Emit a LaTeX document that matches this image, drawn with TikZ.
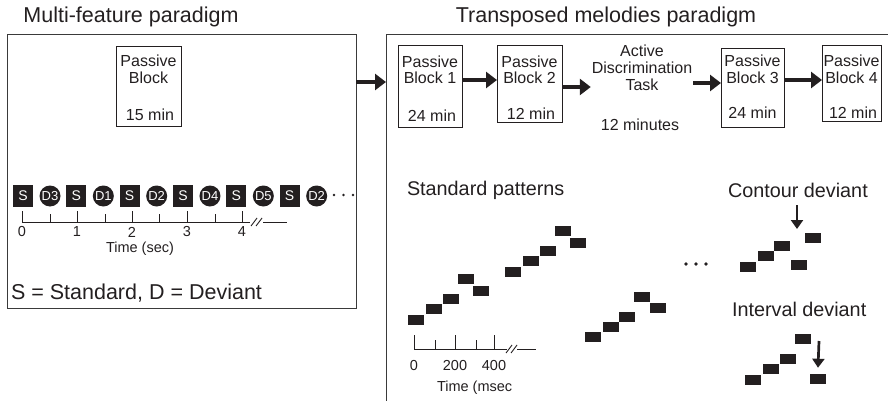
\documentclass[tikz,border=0pt]{standalone}
\usepackage{fontspec}
\setmainfont{Liberation Sans}
\usetikzlibrary{arrows.meta}
\definecolor{ink}{HTML}{231F20}
\definecolor{framec}{HTML}{3A3A3A}
\begin{document}
\begin{tikzpicture}[x=1pt,y=-1pt,
  every node/.style={text=ink, inner sep=0pt, outer sep=0pt},
  frame/.style={draw=framec, line width=1pt, anchor=north west},
  blk/.style={draw=ink, line width=0.9pt, anchor=north west},
  blktext/.style={font=\fontsize{16}{17}\selectfont},
  titletext/.style={font=\fontsize{21.5}{24}\selectfont},
  labtext/.style={font=\fontsize{19.8}{22}\selectfont},
  bigarrow/.style={draw=ink, line width=3.2pt, -{Triangle[length=11pt,width=16pt]}},
  downarrow/.style={draw=ink, line width=2.7pt, -{Triangle[length=9pt,width=12pt]}},
  seqS/.style={fill=ink, minimum width=20pt, minimum height=22pt, text=white, font=\fontsize{14}{15}\selectfont},
  seqD/.style={circle, fill=ink, minimum size=21pt, text=white, font=\fontsize{13}{14}\selectfont},
  tonebox/.style={fill=ink, minimum width=15.5pt, minimum height=10.5pt},
  ticktext/.style={font=\fontsize{14.5}{16}\selectfont},
  axisline/.style={draw=ink, line width=0.9pt}
]
\useasboundingbox (0,0) rectangle (888,401);
\clip (0,0) rectangle (888,401);

% titles
\node[titletext] (t1) at (131,17) {Multi-feature paradigm};
\node[titletext] (t2) at (606,17) {Transposed melodies paradigm};

% frames
\node[frame, minimum width=349pt, minimum height=273pt] (lf) at (7,35) {};
\node[frame, minimum width=520pt, minimum height=380pt] (rf) at (386,35) {};
\draw[bigarrow] (lf.east |- 0,82) -- (rf.west |- 0,82);

% left passive block
\node[blk, minimum width=65pt, minimum height=80pt] (pb) at (116,46) {};
\node[blktext] (pbt1) at (148.5,61) {Passive};
\node[blktext] (pbt2) at (148.5,78) {Block};
\node[blktext] (pbt3) at (150,115) {15 min};

% sequence
\foreach \i/\d in {0/D3,1/D1,2/D2,3/D4,4/D5,5/D2}{
  \node[seqS] (s\i) at ({23+53.33*\i},196) {S};
  \node[seqD] (d\i) at ({50+53.33*\i},196) {\d};
}
\foreach \x in {334,343.5,353}{
  \fill[ink] (\x,195) circle (1.3pt);
}

% seconds timeline
\draw[axisline] (22,222) -- (250,222);
\draw[axisline] (263,222) -- (287,222);
\draw[axisline] (251,226) -- (257,218);
\draw[axisline] (256,226) -- (262,218);
\foreach \x/\n in {22/0,77/1,132/2,187/3,242/4}{
  \draw[axisline] (\x,222) -- (\x,211);
  \node[ticktext] (sl\n) at (\x,232) {\n};
}
\foreach \x in {50,105,159,215}{
  \draw[axisline] (\x,222) -- (\x,214);
}
\node[ticktext] (tsec) at (140,249) {Time (sec)};

\node[titletext, anchor=west] (legend) at (11,293) {S = Standard, D = Deviant};

% right-side blocks
\node[blk, minimum width=64pt, minimum height=82pt] (b1) at (398,45) {};
\node[blktext] (b1a) at (430,62) {Passive};
\node[blktext] (b1b) at (430,78) {Block 1};
\node[blktext] (b1c) at (432,116) {24 min};

\node[blk, minimum width=65pt, minimum height=77pt] (b2) at (497,45) {};
\node[blktext] (b2a) at (529.5,62) {Passive};
\node[blktext] (b2b) at (529.5,78) {Block 2};
\node[blktext] (b2c) at (531,114) {12 min};

\node[blktext, align=center] (act) at (642,68) {Active\\Discrimination\\Task};
\node[blktext] (actd) at (640,125) {12 minutes};

\node[blk, minimum width=63pt, minimum height=79pt] (b3) at (721,48) {};
\node[blktext] (b3a) at (752.5,61) {Passive};
\node[blktext] (b3b) at (752.5,78) {Block 3};
\node[blktext] (b3c) at (752.5,113) {24 min};

\node[blk, minimum width=59pt, minimum height=76pt] (b4) at (822,45) {};
\node[blktext] (b4a) at (851.5,61) {Passive};
\node[blktext] (b4b) at (851.5,78) {Block 4};
\node[blktext] (b4c) at (853,113) {12 min};

\draw[bigarrow] (b1.east |- 0,80) -- (b2.west |- 0,80);
\draw[bigarrow] (b2.east |- 0,87) -- ([xshift=-1pt]act.west |- 0,87);
\draw[bigarrow] ([xshift=1pt]act.east |- 0,83) -- (b3.west |- 0,83);
\draw[bigarrow] (b3.east |- 0,80) -- (b4.west |- 0,80);

% labels
\node[labtext, anchor=west] (stdlab) at (407,190) {Standard patterns};
\node[labtext, anchor=west] (conlab) at (728,190) {Contour deviant};
\node[labtext, anchor=west] (intlab) at (732,309) {Interval deviant};

% standard patterns
\foreach \n/\x/\y in {1/416/320,2/434/309,3/451/299,4/466/279,5/481/291,
                      6/513/272,7/531/261,8/548/251,9/563/231,10/578/243,
                      11/593/337,12/611/327,13/627/317,14/642/297,15/658/308}{
  \node[tonebox] (sp\n) at (\x,\y) {};
}
\foreach \x in {686,696,706}{
  \fill[ink] (\x,264) circle (1.8pt);
}

% contour deviant
\foreach \n/\x/\y in {1/748/267,2/766/256,3/782/246,4/799/265,5/813/238}{
  \node[tonebox] (cd\n) at (\x,\y) {};
}
\coordinate (ca) at (797,205);
\coordinate (cb) at (797,229);
\draw[downarrow] (ca) -- (cb);

% interval deviant
\foreach \n/\x/\y in {1/753/380,2/771/369,3/788/359,4/803/339,5/818/379}{
  \node[tonebox] (iv\n) at (\x,\y) {};
}
\coordinate (ia) at (819,341);
\draw[downarrow] (ia) -- ([yshift=6pt]iv5.north);

% msec timeline
\draw[axisline] (414,349) -- (507,349);
\draw[axisline] (517,349) -- (536,349);
\draw[axisline] (506,353) -- (512,345);
\draw[axisline] (511,353) -- (517,345);
\foreach \x in {414,455,494}{
  \draw[axisline] (\x,349) -- (\x,335);
}
\foreach \x in {435,476}{
  \draw[axisline] (\x,349) -- (\x,340);
}
\node[ticktext] (m0) at (414,366) {0};
\node[ticktext] (m200) at (455,366) {200};
\node[ticktext] (m400) at (494,366) {400};
\node[ticktext, anchor=west] (tmsec) at (437,388) {Time (msec};
\end{tikzpicture}
\end{document}
